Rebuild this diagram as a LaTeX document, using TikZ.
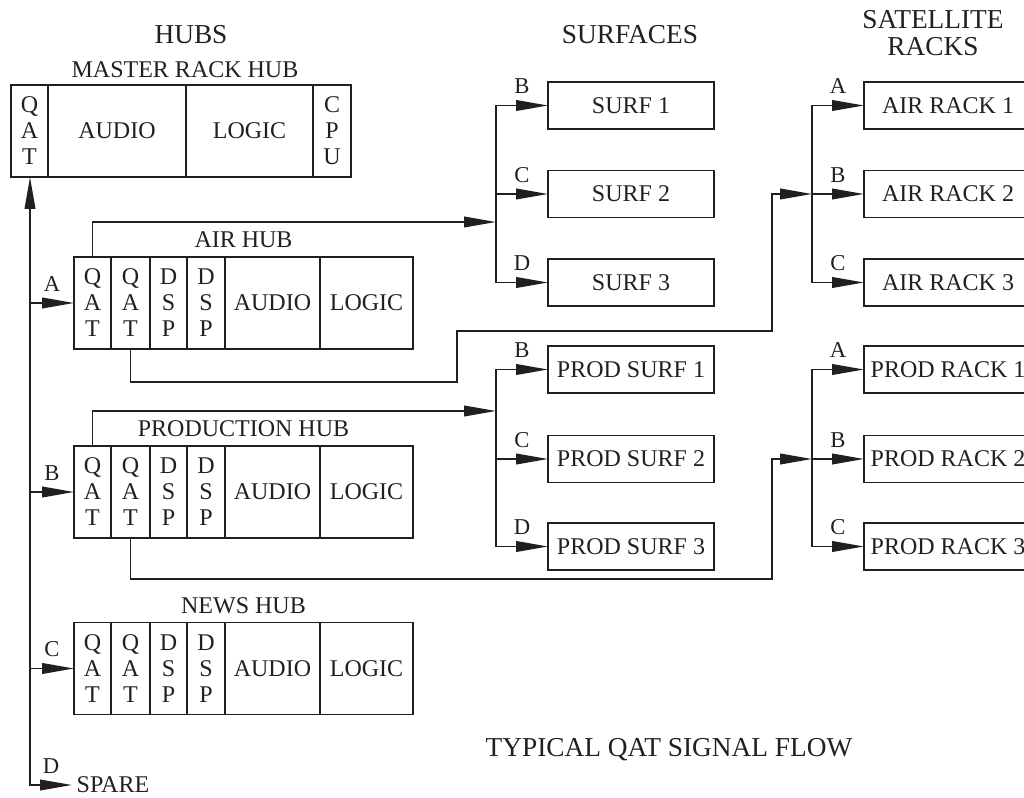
\documentclass[tikz,border=0pt]{standalone}
\usepackage{fontspec}
\setmainfont{Liberation Serif}
\usepackage{tikz}
\usetikzlibrary{positioning, arrows.meta, calc}
\definecolor{cInk}{HTML}{231F20}

\begin{document}
\begin{tikzpicture}[x=0.75pt, y=-0.75pt,
    every node/.style={text=cInk},
    txt/.style={font=\fontsize{18}{19.5}\selectfont},
    heading/.style={font=\fontsize{20.5}{20.25}\selectfont, align=center},
    hubcell/.style={txt, draw=cInk, line width=1.3pt, align=center,
                    inner sep=0pt, outer sep=0pt, minimum height=69pt},
    destbox/.style={txt, draw=cInk, line width=1.3pt, inner sep=0pt,
                    outer sep=0pt, minimum height=35.25pt},
    sig/.style={draw=cInk, line width=1.3pt, -{Triangle[length=24pt, width=8pt]}},
    sigboth/.style={draw=cInk, line width=1.3pt,
                    {Triangle[length=24pt, width=8pt]}-{Triangle[length=24pt, width=8pt]}},
    tag/.style={font=\fontsize{17}{18}\selectfont, inner sep=2pt, above=6pt},
  ]
  \useasboundingbox (0,0) rectangle (1024,798);
  \clip (0,0) rectangle (1024,798);

  % headings
  \node[heading] (hHubs) at (191,35) {HUBS};
  \node[heading] (hSurf) at (630,35) {SURFACES};
  \node[heading] (hRack) at (933,33) {SATELLITE\\RACKS};
  \node[heading] (hFlow) at (669,750) {TYPICAL QAT SIGNAL FLOW};

  % master rack hub
  \node[txt] (mas-title) at (185,70) {MASTER RACK HUB};
  \foreach \cel/\cx/\w/\lbl in {q/29.5/27.75/{Q\\A\\T}, au/117/103.5/AUDIO,
      lg/249.5/95.25/LOGIC, cpu/332/28.5/{C\\P\\U}}
    \node[hubcell, minimum width=\w pt] (mas-\cel) at (\cx,131) {\lbl};

  % the three hubs
  \foreach \h/\y/\ttl in {air/303/AIR HUB, prod/492/PRODUCTION HUB, news/668.5/NEWS HUB}{
    \node[txt] (\h-title) at (243.5,\y-63) {\ttl};
    \foreach \cel/\cx/\w/\lbl in {q1/92.5/27.75/{Q\\A\\T}, q2/130.5/29.25/{Q\\A\\T},
        d1/168.5/27.75/{D\\S\\P}, d2/206/28.5/{D\\S\\P},
        au/272.5/71.25/AUDIO, lg/366.5/69.75/LOGIC}
      \node[hubcell, minimum width=\w pt] (\h-\cel) at (\cx,\y) {\lbl};
  }

  % surfaces and satellite racks
  \foreach \i/\ya/\yb in {1/105.5/369.5, 2/194/459, 3/282.5/546.5}{
    \node[destbox, minimum width=124.5pt] (surf\i) at (631,\ya) {SURF \i};
    \node[destbox, minimum width=124.5pt] (psurf\i) at (631,\yb) {PROD SURF \i};
    \node[destbox, minimum width=126pt] (arack\i) at (948,\ya) {AIR RACK \i};
    \node[destbox, minimum width=126pt] (prack\i) at (948,\yb) {PROD RACK \i};
  }

  % left distribution bus
  \coordinate (busend) at (30,785);
  \node[txt, anchor=west] (spare) at (72,785) {SPARE};
  \draw[sigboth] (busend |- mas-q.south) -- (busend)
    -- node[tag] (spare-tag) {D} (spare.west);
  \foreach \h/\lbl in {air/A, prod/B, news/C}
    \draw[sig] (busend |- \h-q1.west) -- node[tag] (\h-tag) {\lbl} (\h-q1.west);

  % junctions
  \coordinate (sjA) at (496,222);
  \coordinate (sjP) at (496,411);
  \coordinate (rjA) at (812,194);
  \coordinate (rjP) at (812,459);

  % air hub
  \draw[sig] (air-q1.north) |- (sjA);
  \draw[sig] (air-q2.south) |- (457,382) |- (772,331) |- (rjA);
  \foreach \i/\lbl in {1/B, 2/C, 3/D}
    \draw[sig] (sjA) |- node[tag, pos=.75] (surf\i-tag) {\lbl} (surf\i.west);
  \foreach \i/\lbl in {1/A, 2/B, 3/C}
    \draw[sig] (rjA) |- node[tag, pos=.75] (arack\i-tag) {\lbl} (arack\i.west);

  % production hub
  \draw[sig] (prod-q1.north) |- (sjP);
  \draw[sig] (prod-q2.south) |- (772,579) |- (rjP);
  \foreach \i/\lbl in {1/B, 2/C, 3/D}
    \draw[sig] (sjP) |- node[tag, pos=.75] (psurf\i-tag) {\lbl} (psurf\i.west);
  \foreach \i/\lbl in {1/A, 2/B, 3/C}
    \draw[sig] (rjP) |- node[tag, pos=.75] (prack\i-tag) {\lbl} (prack\i.west);
\end{tikzpicture}
\end{document}
